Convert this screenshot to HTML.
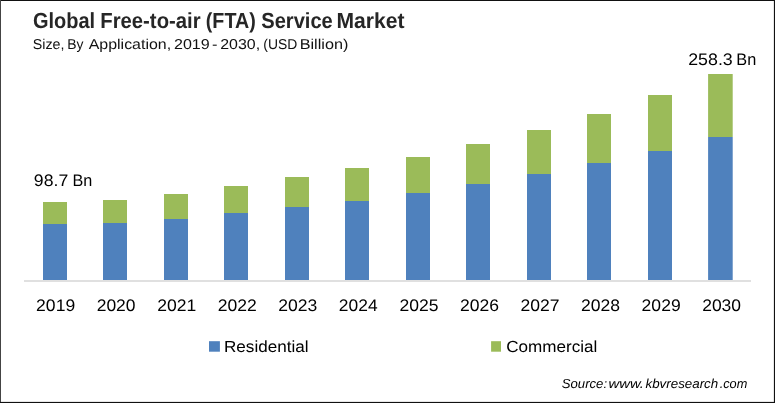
<!DOCTYPE html>
<html lang="en">
<head>
<meta charset="utf-8">
<title>Global Free-to-air (FTA) Service Market</title>
<style>
html,body{margin:0;padding:0;background:#fff;}
body{width:775px;height:403px;overflow:hidden;position:relative;}
svg{display:block;position:absolute;left:0;top:0;}
text{font-family:"Liberation Sans",sans-serif;text-rendering:geometricPrecision;white-space:pre;}
</style>
</head>
<body>
<svg width="775" height="403" viewBox="0 0 775 403">
<rect x="0" y="0" width="775" height="403" fill="#ffffff"/>
<rect x="24" y="280.2" width="727" height="1.6" fill="#d9d9d9"/>
<rect x="43" y="202" width="24" height="22" fill="#9bbb59"/><rect x="43" y="224" width="24" height="56" fill="#4f81bd"/>
<rect x="103" y="200" width="24" height="23" fill="#9bbb59"/><rect x="103" y="223" width="24" height="57" fill="#4f81bd"/>
<rect x="164" y="194" width="24" height="25" fill="#9bbb59"/><rect x="164" y="219" width="24" height="61" fill="#4f81bd"/>
<rect x="224" y="186" width="24" height="27" fill="#9bbb59"/><rect x="224" y="213" width="24" height="67" fill="#4f81bd"/>
<rect x="285" y="177" width="24" height="30" fill="#9bbb59"/><rect x="285" y="207" width="24" height="73" fill="#4f81bd"/>
<rect x="345" y="168" width="24" height="33" fill="#9bbb59"/><rect x="345" y="201" width="24" height="79" fill="#4f81bd"/>
<rect x="406" y="157" width="24" height="36" fill="#9bbb59"/><rect x="406" y="193" width="24" height="87" fill="#4f81bd"/>
<rect x="466" y="144" width="24" height="40" fill="#9bbb59"/><rect x="466" y="184" width="24" height="96" fill="#4f81bd"/>
<rect x="527" y="130" width="24" height="44" fill="#9bbb59"/><rect x="527" y="174" width="24" height="106" fill="#4f81bd"/>
<rect x="587" y="114" width="24" height="49" fill="#9bbb59"/><rect x="587" y="163" width="24" height="117" fill="#4f81bd"/>
<rect x="648" y="95" width="24" height="56" fill="#9bbb59"/><rect x="648" y="151" width="24" height="129" fill="#4f81bd"/>
<rect x="708.1" y="74" width="24.6" height="63" fill="#9bbb59"/><rect x="708.1" y="137" width="24.6" height="143" fill="#4f81bd"/>
<text id="y2019" font-size="16.70" font-weight="normal" font-style="normal" fill="#000"><tspan x="36.12" y="311.00" textLength="39.06" lengthAdjust="spacingAndGlyphs">2019</tspan></text>
<text id="y2020" font-size="16.70" font-weight="normal" font-style="normal" fill="#000"><tspan x="96.68" y="311.00" textLength="38.88" lengthAdjust="spacingAndGlyphs">2020</tspan></text>
<text id="y2021" font-size="16.70" font-weight="normal" font-style="normal" fill="#000"><tspan x="157.22" y="311.00" textLength="39.06" lengthAdjust="spacingAndGlyphs">2021</tspan></text>
<text id="y2022" font-size="16.70" font-weight="normal" font-style="normal" fill="#000"><tspan x="217.77" y="311.00" textLength="39.06" lengthAdjust="spacingAndGlyphs">2022</tspan></text>
<text id="y2023" font-size="16.70" font-weight="normal" font-style="normal" fill="#000"><tspan x="278.32" y="311.00" textLength="39.06" lengthAdjust="spacingAndGlyphs">2023</tspan></text>
<text id="y2024" font-size="16.70" font-weight="normal" font-style="normal" fill="#000"><tspan x="338.88" y="311.00" textLength="38.70" lengthAdjust="spacingAndGlyphs">2024</tspan></text>
<text id="y2025" font-size="16.70" font-weight="normal" font-style="normal" fill="#000"><tspan x="399.42" y="311.00" textLength="39.06" lengthAdjust="spacingAndGlyphs">2025</tspan></text>
<text id="y2026" font-size="16.70" font-weight="normal" font-style="normal" fill="#000"><tspan x="459.97" y="311.00" textLength="39.06" lengthAdjust="spacingAndGlyphs">2026</tspan></text>
<text id="y2027" font-size="16.70" font-weight="normal" font-style="normal" fill="#000"><tspan x="520.52" y="311.00" textLength="39.06" lengthAdjust="spacingAndGlyphs">2027</tspan></text>
<text id="y2028" font-size="16.70" font-weight="normal" font-style="normal" fill="#000"><tspan x="581.07" y="311.00" textLength="39.06" lengthAdjust="spacingAndGlyphs">2028</tspan></text>
<text id="y2029" font-size="16.70" font-weight="normal" font-style="normal" fill="#000"><tspan x="641.62" y="311.00" textLength="39.06" lengthAdjust="spacingAndGlyphs">2029</tspan></text>
<text id="y2030" font-size="16.70" font-weight="normal" font-style="normal" fill="#000"><tspan x="702.18" y="311.00" textLength="38.88" lengthAdjust="spacingAndGlyphs">2030</tspan></text>
<text id="title" font-size="21.90" font-weight="bold" font-style="normal" fill="#262626"><tspan x="33.00" y="27.70" textLength="62.12" lengthAdjust="spacingAndGlyphs">Global</tspan> <tspan x="100.28" y="27.70" textLength="100.33" lengthAdjust="spacingAndGlyphs">Free-to-air</tspan> <tspan x="205.82" y="27.70" textLength="49.88" lengthAdjust="spacingAndGlyphs">(FTA)</tspan> <tspan x="261.30" y="27.70" textLength="71.48" lengthAdjust="spacingAndGlyphs">Service</tspan> <tspan x="336.53" y="27.70" textLength="68.05" lengthAdjust="spacingAndGlyphs">Market</tspan></text>
<text id="sub" font-size="14.30" font-weight="normal" font-style="normal" fill="#111"><tspan x="32.79" y="49.40" textLength="31.70" lengthAdjust="spacingAndGlyphs">Size,</tspan> <tspan x="67.19" y="49.40" textLength="16.21" lengthAdjust="spacingAndGlyphs">By</tspan> <tspan x="88.70" y="49.40" textLength="82.44" lengthAdjust="spacingAndGlyphs">Application,</tspan> <tspan x="174.00" y="49.40" textLength="35.72" lengthAdjust="spacingAndGlyphs">2019</tspan> <tspan x="212.04" y="49.40" textLength="5.46" lengthAdjust="spacingAndGlyphs">-</tspan> <tspan x="220.20" y="49.40" textLength="39.91" lengthAdjust="spacingAndGlyphs">2030,</tspan> <tspan x="263.37" y="49.40" textLength="33.95" lengthAdjust="spacingAndGlyphs">(USD</tspan> <tspan x="299.70" y="49.40" textLength="48.69" lengthAdjust="spacingAndGlyphs">Billion)</tspan></text>
<text id="l1" font-size="16.70" font-weight="normal" font-style="normal" fill="#000"><tspan x="33.89" y="185.90" textLength="34.32" lengthAdjust="spacingAndGlyphs">98.7</tspan> <tspan x="72.40" y="185.90" textLength="19.82" lengthAdjust="spacingAndGlyphs">Bn</tspan></text>
<text id="l2" font-size="16.70" font-weight="normal" font-style="normal" fill="#000"><tspan x="688.21" y="64.90" textLength="44.55" lengthAdjust="spacingAndGlyphs">258.3</tspan> <tspan x="736.30" y="64.90" textLength="19.93" lengthAdjust="spacingAndGlyphs">Bn</tspan></text>
<text id="res" font-size="16.10" font-weight="normal" font-style="normal" fill="#000"><tspan x="224.03" y="351.90" textLength="84.52" lengthAdjust="spacingAndGlyphs">Residential</tspan></text>
<text id="com" font-size="16.10" font-weight="normal" font-style="normal" fill="#000"><tspan x="506.25" y="351.90" textLength="91.15" lengthAdjust="spacingAndGlyphs">Commercial</tspan></text>
<text id="src" font-size="13.00" font-weight="normal" font-style="italic" fill="#000"><tspan x="561.81" y="388.00" textLength="45.27" lengthAdjust="spacingAndGlyphs">Source:</tspan> <tspan x="608.56" y="388.00" textLength="35.41" lengthAdjust="spacingAndGlyphs">www.</tspan><tspan x="645.53" y="388.00" textLength="72.69" lengthAdjust="spacingAndGlyphs">kbvresearch</tspan><tspan x="719.69" y="388.00" textLength="27.61" lengthAdjust="spacingAndGlyphs">.com</tspan></text>
<rect x="209" y="341.2" width="10.9" height="10.5" fill="#4f81bd"/>
<rect x="491.1" y="341.2" width="9.9" height="10.5" fill="#9bbb59"/>
<rect x="0" y="0" width="775" height="1" fill="#111"/>
<rect x="0" y="0" width="1" height="403" fill="#444"/>
<rect x="773.9" y="0" width="1.1" height="403" fill="#111"/>
<rect x="0" y="401.9" width="775" height="1.1" fill="#111"/>
</svg>
</body>
</html>
